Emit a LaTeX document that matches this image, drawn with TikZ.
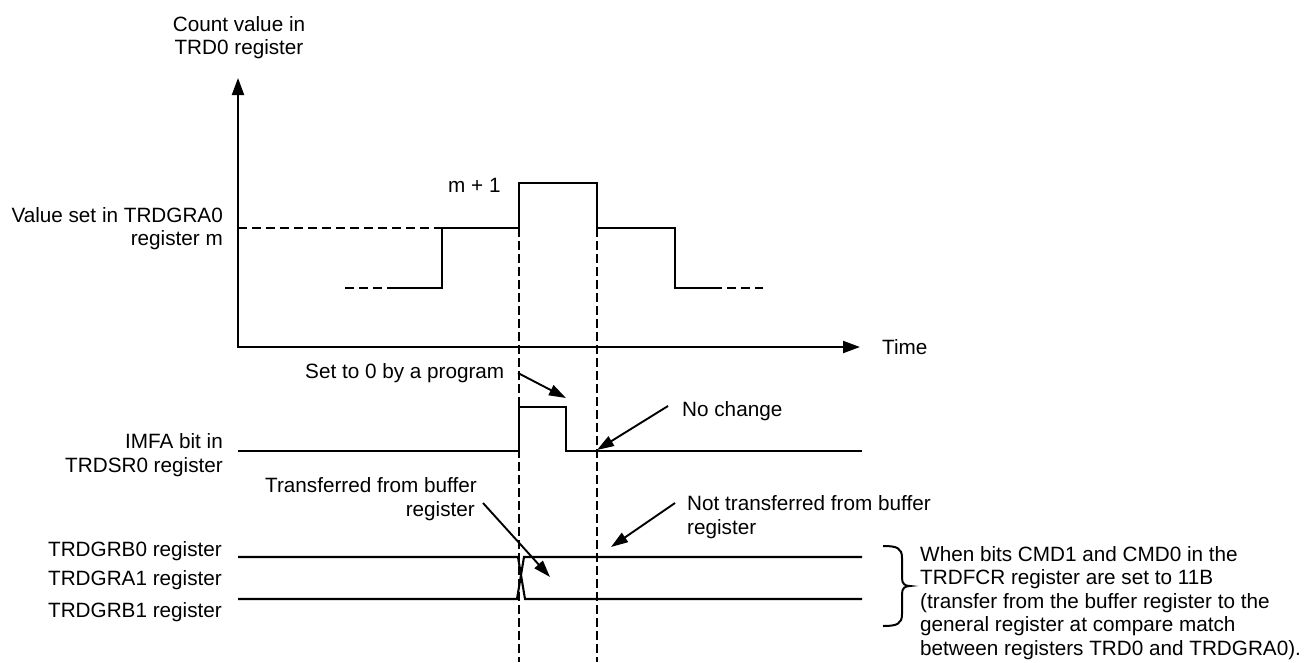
\documentclass[tikz,border=0pt]{standalone}
\usepackage{fontspec}
\setmainfont{Liberation Sans}
\usetikzlibrary{arrows.meta}
\begin{document}
\begin{tikzpicture}[x=1pt,y=-1pt,
  wave/.style={line width=2.1pt, line join=miter},
  dashw/.style={line width=2.1pt, dash pattern=on 9pt off 5pt},
  guide/.style={line width=2.8pt, dash pattern=on 9pt off 4pt},
  axis/.style={line width=2.1pt, {Triangle[length=17pt,width=12pt]}-{Triangle[length=17pt,width=12pt]}},
  callout/.style={line width=1.9pt, -{Triangle[length=17pt,width=11pt]}},
  lbl/.style={inner sep=0pt, font=\fontsize{20.7}{23.5}\selectfont}]
\useasboundingbox (0,0) rectangle (1309,662);

% labels
\node[lbl,anchor=base] (cv1) at (239,31) {Count value in};
\node[lbl,anchor=base] (cv2) at (239,54) {TRD0 register};
\node[lbl,anchor=base east] (vs1) at (223,222) {Value set in TRDGRA0};
\node[lbl,anchor=base east] (vs2) at (223,245) {register m};
\node[lbl,anchor=base west] (m1) at (448,192) {m + 1};
\node[lbl,anchor=base west] (time) at (882,354) {Time};
\node[lbl,anchor=base west] (set0) at (305,378) {Set to 0 by a program};
\node[lbl,anchor=base west] (nochg) at (682,416) {No change};
\node[lbl,anchor=base east] (imfa1) at (223,448) {IMFA bit in};
\node[lbl,anchor=base east] (imfa2) at (223,472) {TRDSR0 register};
\node[lbl,anchor=base east] (tr1) at (477,492) {Transferred from buffer};
\node[lbl,anchor=base east] (tr2) at (475,516) {register};
\node[lbl,anchor=base west] (nt1) at (687,510) {Not transferred from buffer};
\node[lbl,anchor=base west] (nt2) at (687,534) {register};
\node[lbl,anchor=base east] (rb0) at (222,556) {TRDGRB0 register};
\node[lbl,anchor=base east] (ra1) at (222,585) {TRDGRA1 register};
\node[lbl,anchor=base east] (rb1) at (222,617) {TRDGRB1 register};
\node[lbl,anchor=base west] (br1) at (920,561) {When bits CMD1 and CMD0 in the};
\node[lbl,anchor=base west] (br2) at (920,584.5) {TRDFCR register are set to 11B};
\node[lbl,anchor=base west] (br3) at (920,608) {(transfer from the buffer register to the};
\node[lbl,anchor=base west] (br4) at (920,631.5) {general register at compare match};
\node[lbl,anchor=base west] (br5) at (920,655) {between registers TRD0 and TRDGRA0).};

% axes
\coordinate (O) at (238,347);
\coordinate (ytip) at (238,78);
\coordinate (xtip) at (860,347);
\draw[axis] (ytip) -- (O) -- (xtip);

% count waveform
\draw[dashw] (238,228) -- (457,228);
\draw[dashw] (345,288) -- (395,288);
\draw[wave] (395,288) -- (442,288) -- (442,228) -- (519,228) -- (519,183) -- (597,183)
  -- (597,228) -- (675,228) -- (675,288) -- (713,288);
\draw[dashw] (713,288) -- (763,288);

% guides
\draw[guide] (519,228) -- (519,662);
\draw[guide] (597,228) -- (597,662);

% IMFA
\draw[wave] (238,451) -- (519,451) -- (519,407) -- (566,407) -- (566,451) -- (862,451);

% registers
\draw[wave] (238,557) -- (518,557) -- (525,599) -- (862,599);
\draw[wave] (238,599) -- (517,599) -- (524,557) -- (862,557);

% callouts
\coordinate (s0a) at (518,373); \coordinate (s0b) at (566,398);
\coordinate (nca) at (668,406); \coordinate (ncb) at (597,450);
\coordinate (tra) at (483,503); \coordinate (trb) at (550,577);
\coordinate (nta) at (675,503); \coordinate (ntb) at (611,547);
\draw[callout] (s0a) -- (s0b);
\draw[callout] (nca) -- (ncb);
\draw[callout] (tra) -- (trb);
\draw[callout] (nta) -- (ntb);

% brace
\draw[line width=2pt] (883,546) .. controls (897,546) and (902,548) .. (902,558)
  -- (902,578) .. controls (902,584) and (905,586) .. (910,586)
  .. controls (905,586) and (902,588) .. (902,594)
  -- (902,614) .. controls (902,624) and (897,626) .. (883,626);
\end{tikzpicture}
\end{document}
